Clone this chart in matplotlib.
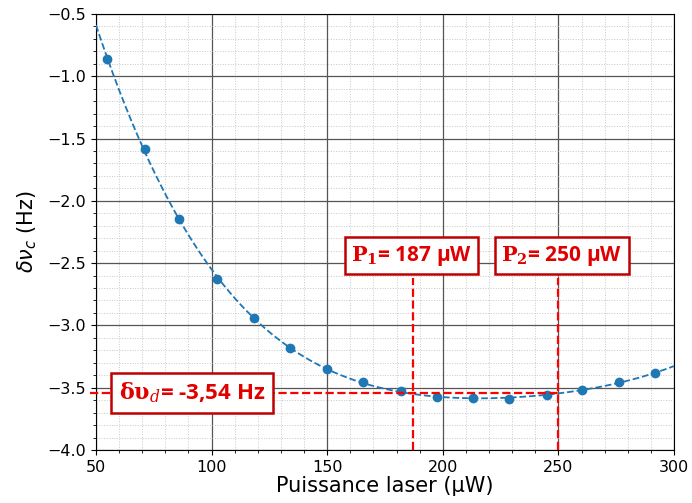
import numpy as np
import matplotlib.pyplot as plt
from matplotlib.ticker import MultipleLocator

# data
power = [54.8, 71.2, 85.9, 102.3, 118.3, 133.9, 149.9, 165.3, 181.8,
         197.3, 213.2, 228.7, 244.9, 260.0, 276.3, 291.8]
shift = [-0.861, -1.583, -2.148, -2.627, -2.94, -3.18, -3.351, -3.456, -3.528,
         -3.571, -3.584, -3.592, -3.555, -3.52, -3.453, -3.384]
p1 = 187
p2 = 250
dnu_d = -3.54
label_p1 = r"$\mathbf{P_1}$= 187 µW"
label_p2 = r"$\mathbf{P_2}$= 250 µW"
label_d = r"$\mathbf{\delta\upsilon_{\mathit{d}}}$= -3,54 Hz"

fig = plt.figure(figsize=(6.92, 5.03), dpi=100)
ax = fig.add_axes([0.1387, 0.1054, 0.8353, 0.8668])

# fit curve
coef = np.polyfit(power, shift, 4)
xf = np.linspace(50, 300, 300)
ax.plot(xf, np.polyval(coef, xf), '--', color='#1f77b4', lw=1.3, zorder=3)
ax.plot(power, shift, 'o', color='#1f77b4', ms=6, zorder=4)

ax.set_xlim(50, 300)
ax.set_ylim(-4.0, -0.5)
ax.xaxis.set_major_locator(MultipleLocator(50))
ax.xaxis.set_minor_locator(MultipleLocator(10))
ax.yaxis.set_major_locator(MultipleLocator(0.5))
ax.yaxis.set_minor_locator(MultipleLocator(0.1))
ax.grid(which='major', color='#555555', lw=0.9)
ax.grid(which='minor', color='#c8c8c8', lw=0.7, ls=':')
ax.set_axisbelow(True)
ax.tick_params(labelsize=11.5)
ax.set_xlabel("Puissance laser (µW)", fontsize=15, labelpad=1)
ax.set_ylabel(r"$\delta\nu_c$ (Hz)", fontsize=15, labelpad=6)

# red annotation lines
red = '#ff0000'
ytop = -2.62
ax.plot([p1, p1], [-4.0, ytop], '--', color=red, lw=1.6, zorder=5, clip_on=False)
ax.plot([p2, p2], [-4.0, ytop], '--', color=red, lw=1.6, zorder=5, clip_on=False)
ax.plot([47.5, p2], [dnu_d, dnu_d], '--', color=red, lw=1.6, zorder=5, clip_on=False)

box = dict(boxstyle='square,pad=0.3', fc='white', ec='#c00000', lw=1.8)
tk = dict(color='#e00000', fontsize=15, fontweight='bold', ha='center', va='center',
          family='Open Sans', zorder=6, bbox=box, math_fontfamily='dejavuserif')
ax.text(p1 - 0.5, -2.44, label_p1, **tk)
ax.text(p2 + 1.5, -2.44, label_p2, **tk)
td = dict(tk)
td['fontsize'] = 16
td['bbox'] = dict(boxstyle='square,pad=0.35', fc='white', ec='#c00000', lw=1.8)
ax.text(91.7, -3.54, label_d, **td)

fig.savefig('out.png', dpi=100)
